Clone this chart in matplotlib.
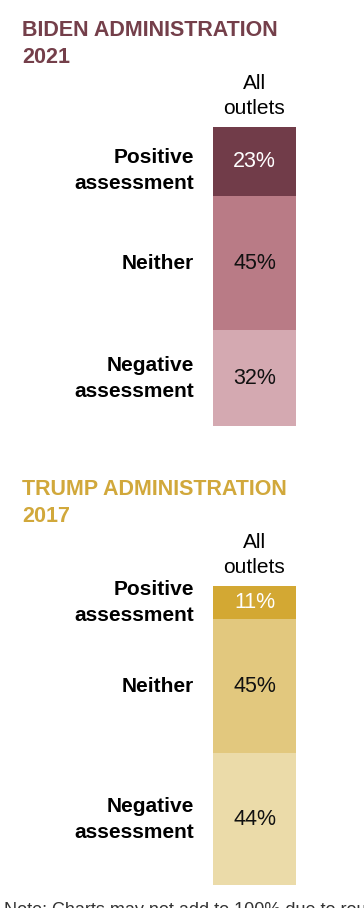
import numpy as np
import matplotlib.pyplot as plt
from matplotlib import transforms

plt.rcParams['font.family'] = ['Liberation Sans', 'DejaVu Sans']

categories = ['Positive\nassessment', 'Neither', 'Negative\nassessment']
biden = [23, 45, 32]
trump = [11, 45, 44]

biden_colors = ['#713c49', '#b97b86', '#d4a9b1']
trump_colors = ['#d3a833', '#e2c87e', '#ebdba9']
biden_title = '#743f4a'
trump_title = '#d1a83b'

W, H = 364, 908
fig = plt.figure(figsize=(W / 100, H / 100), dpi=100)


def panel(top_px, vals, colors, title, title_color, title_y, shift=(0, 0, 0)):
    ax = fig.add_axes([213 / W, 1 - (top_px + 299) / H, 83 / W, 299 / H])
    bottoms = np.concatenate([[0], np.cumsum(vals)[:-1]])
    ax.bar(0, vals, bottom=bottoms, width=1, color=colors)
    ax.set_xlim(-0.5, 0.5)
    ax.set_ylim(100, 0)
    ax.axis('off')
    tr = transforms.blended_transform_factory(ax.transAxes, ax.transData)
    for i, (v, b) in enumerate(zip(vals, bottoms)):
        mid = b + v / 2
        ax.text(0, mid, f'{v}%', ha='center', va='center', fontsize=15.5,
                color='white' if i == 0 else '#111111')
        ax.text(-0.23, mid + shift[i], categories[i], ha='right', va='center',
                fontsize=15, fontweight='bold', linespacing=1.45, transform=tr)
    ax.text(0.5, 1.03, 'All\noutlets', transform=ax.transAxes, ha='center',
            va='bottom', fontsize=15, linespacing=1.4)
    fig.text(22 / W, 1 - title_y / H, title, color=title_color, fontsize=15.5,
             fontweight='bold', va='top', linespacing=1.35)


panel(127, biden, biden_colors, 'BIDEN ADMINISTRATION\n2021', biden_title, 20,
      shift=(3, 0, 0))
panel(586, trump, trump_colors, 'TRUMP ADMINISTRATION\n2017', trump_title, 479)

# note runs off the bottom edge, as in the source image
fig.text(4 / W, 1 - 902 / H, 'Note: Charts may not add to 100% due to rounding.',
         fontsize=13, va='top', color='#333333')

fig.savefig('out.png', dpi=100)
